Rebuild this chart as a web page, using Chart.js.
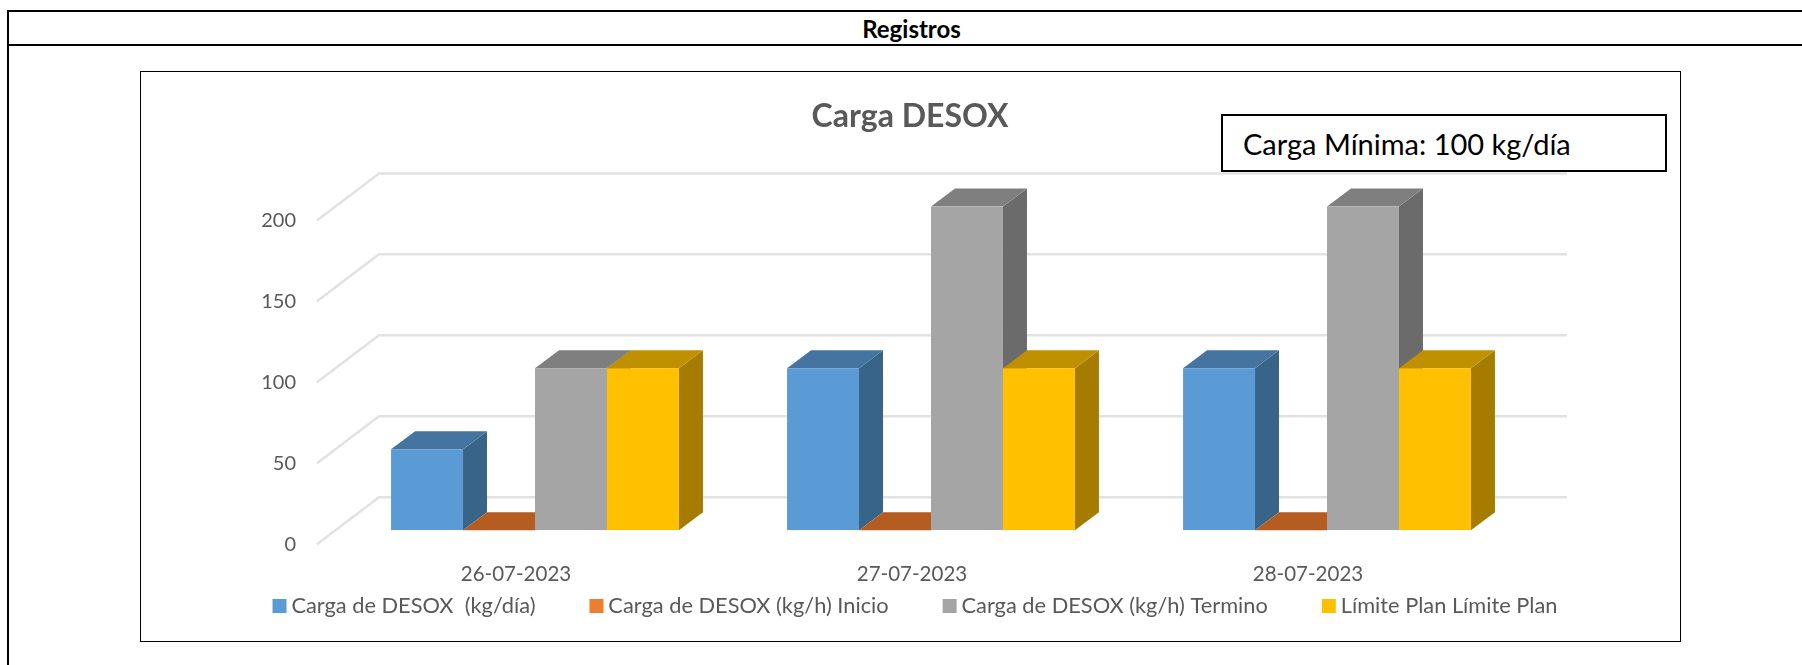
<!DOCTYPE html>
<html lang="es">
<head>
<meta charset="utf-8">
<title>Carga DESOX</title>
<script src="https://cdn.jsdelivr.net/npm/chart.js@4"></script>
<style>
    html, body { margin: 0; padding: 0; background: #fff; overflow: hidden; }
    body { width: 1802px; height: 665px; position: relative; font-family: Lato, sans-serif; }
    .linea { position: absolute; background: #000; }
    #cabecera { position: absolute; left: 9px; right: 0; top: 12px; height: 32px; line-height: 34px; text-align: center; font-weight: bold; font-size: 24px; color: #000; text-indent: 12px; }
    #marco { position: absolute; left: 140px; top: 71px; width: 1539px; height: 569px; border: 1px solid #000; }
    #nota { position: absolute; left: 1221px; top: 114px; width: 442px; height: 54px; border: 2px solid #000; background: #fff; line-height: 55px; font-size: 29px; color: #000; text-indent: 20px; }
    canvas { position: absolute; left: 0; top: 0; }
</style>
</head>
<body>
<div class="linea" style="left:7px;right:0;top:10px;height:2px"></div>
<div class="linea" style="left:7px;top:10px;width:2px;height:655px"></div>
<div class="linea" style="left:7px;right:0;top:44px;height:2px"></div>
<div id="cabecera">Registros</div>
<div id="marco"></div>
<canvas id="grafico" width="1802" height="665"></canvas>
<div id="nota">Carga Mínima: 100 kg/día</div>

<script>
// Datos
const fechas = ['26-07-2023', '27-07-2023', '28-07-2023'];
const cargaDia = [50, 100, 100];
const cargaInicio = [0, 0, 0];
const cargaTermino = [100, 200, 200];
const limitePlan = [100, 100, 100];
const ticksY = [0, 50, 100, 150, 200];

const colorTexto = '#595959';

// Colores de cada serie: frente, costado y tapa
const azul = { frente: '#5B9BD5', costado: '#39648A', tapa: '#44749F' };
const naranja = { frente: '#ED7D31', costado: '#A85A22', tapa: '#B55D20' };
const gris = { frente: '#A5A5A5', costado: '#6B6B6B', tapa: '#7F7F7F' };
const amarillo = { frente: '#FFC000', costado: '#A67C00', tapa: '#BF9000' };
const tonos = [azul, naranja, gris, amarillo];

// Perspectiva de las barras y de las paredes
const fondoBarra = { x: 24, y: 18 };
const paredAtras = { x: 42, y: 33 };
const paredFrente = { x: 20, y: 14 };

const perspectiva = {
    id: 'perspectiva',
    afterLayout(chart) {
        // La leyenda va mas pegada al eje y corrida respecto del titulo
        chart.legend.left += 8;
        chart.legend.right += 8;
        chart.legend.top -= 55;
        chart.legend.bottom -= 55;
    },
    beforeDatasetsDraw(chart) {
        const ctx = chart.ctx;
        const area = chart.chartArea;
        const escalaY = chart.scales.y;

        // Lineas de la pared: diagonal en el piso y horizontal atras
        ctx.save();
        ctx.strokeStyle = '#E2E2E2';
        ctx.lineWidth = 2.5;
        ticksY.forEach(v => {
            const y = escalaY.getPixelForValue(v);
            ctx.beginPath();
            ctx.moveTo(area.left - paredFrente.x, y + paredFrente.y);
            ctx.lineTo(area.left + paredAtras.x, y - paredAtras.y);
            ctx.lineTo(area.right + paredAtras.x, y - paredAtras.y);
            ctx.stroke();
        });

        // Costado y tapa de cada barra, el frente lo dibuja Chart.js encima
        chart.data.datasets.forEach((ds, i) => {
            chart.getDatasetMeta(i).data.forEach(barra => {
                const der = barra.x + barra.width / 2;
                const izq = barra.x - barra.width / 2;
                ctx.fillStyle = tonos[i].costado;
                ctx.beginPath();
                ctx.moveTo(der, barra.y);
                ctx.lineTo(der + fondoBarra.x, barra.y - fondoBarra.y);
                ctx.lineTo(der + fondoBarra.x, barra.base - fondoBarra.y);
                ctx.lineTo(der, barra.base);
                ctx.closePath();
                ctx.fill();
                ctx.fillStyle = tonos[i].tapa;
                ctx.beginPath();
                ctx.moveTo(izq, barra.y);
                ctx.lineTo(izq + fondoBarra.x, barra.y - fondoBarra.y);
                ctx.lineTo(der + fondoBarra.x, barra.y - fondoBarra.y);
                ctx.lineTo(der, barra.y);
                ctx.closePath();
                ctx.fill();
            });
        });
        ctx.restore();
    }
};

new Chart(document.getElementById('grafico'), {
    type: 'bar',
    data: {
        labels: fechas,
        datasets: [
            { label: 'Carga de DESOX  (kg/día)', data: cargaDia, backgroundColor: azul.frente },
            { label: 'Carga de DESOX (kg/h) Inicio', data: cargaInicio, backgroundColor: naranja.frente },
            { label: 'Carga de DESOX (kg/h) Termino', data: cargaTermino, backgroundColor: gris.frente },
            { label: 'Límite Plan Límite Plan', data: limitePlan, backgroundColor: amarillo.frente }
        ]
    },
    options: {
        responsive: false,
        animation: false,
        categoryPercentage: 0.727,
        barPercentage: 1,
        layout: { padding: { left: 100, right: 82, top: 0, bottom: -17 } },
        scales: {
            x: {
                grid: { display: false, drawTicks: false },
                border: { display: false },
                ticks: { color: colorTexto, font: { family: 'Lato', size: 20.5 }, padding: 32, labelOffset: -19, maxRotation: 0 },
                afterFit(scale) { scale.height = 60; }
            },
            y: {
                min: 0,
                max: 200,
                grid: { display: false, drawTicks: false },
                border: { display: false },
                ticks: { color: colorTexto, font: { family: 'Lato', size: 20 }, padding: 41, stepSize: 50, labelOffset: 14 },
                afterFit(scale) { scale.width = 237; }
            },
            // Eje vacio, solo reserva el espacio de la derecha
            derecha: {
                position: 'right',
                grid: { display: false, drawTicks: false },
                border: { display: false },
                ticks: { display: false },
                afterFit(scale) { scale.width = 195; }
            }
        },
        plugins: {
            title: {
                display: true,
                text: 'Carga DESOX',
                color: colorTexto,
                font: { family: 'Lato', size: 32, weight: 'bold' },
                padding: { top: 97, bottom: 71 }
            },
            legend: {
                position: 'bottom',
                labels: {
                    color: colorTexto,
                    font: { family: 'Lato', size: 21.8 },
                    usePointStyle: true,
                    pointStyle: 'rect',
                    boxWidth: 2,
                    boxHeight: 14,
                    padding: 60
                }
            },
            tooltip: { enabled: false }
        }
    },
    plugins: [perspectiva]
});
</script>
</body>
</html>
